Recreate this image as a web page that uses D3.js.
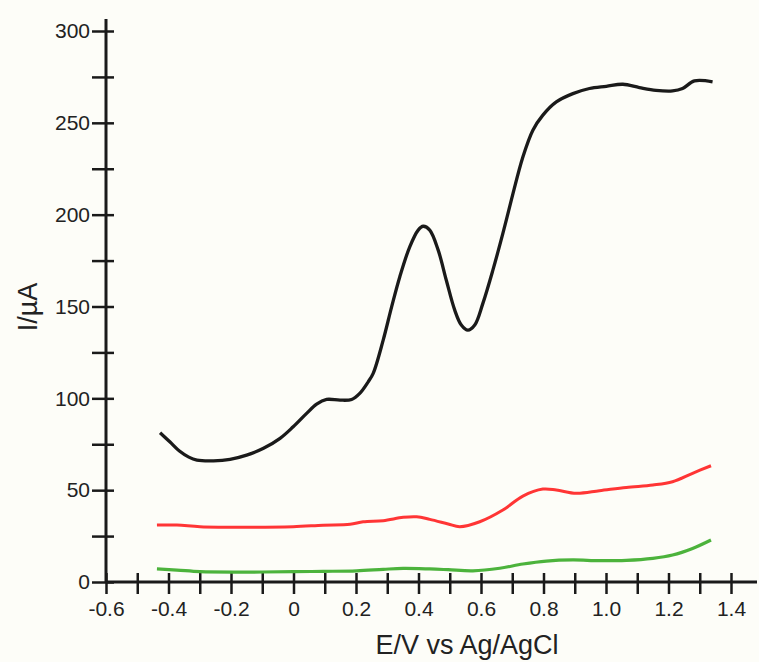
<!DOCTYPE html>
<html>
<head>
<meta charset="utf-8">
<script src="https://cdn.jsdelivr.net/npm/d3@7"></script>
<style>
    body { margin: 0; background: #fdfdf8; }
    svg { display: block; }
    .axis text { font-family: "Liberation Sans", Arial, sans-serif; font-size: 21px; fill: #222; }
    .title { font-family: "Liberation Sans", Arial, sans-serif; font-size: 27px; fill: #222; }
</style>
</head>
<body>
<div id="chart"></div>
<script>
// potentials (V vs Ag/AgCl) and currents (µA)
const blackE = [-0.427, -0.395, -0.365, -0.335, -0.309, -0.256, -0.203, -0.150, -0.096, -0.043, -0.001, 0.042, 0.074, 0.106, 0.149, 0.186, 0.212, 0.239, 0.255, 0.287, 0.314, 0.340, 0.372, 0.399, 0.415, 0.436, 0.463, 0.489, 0.516, 0.537, 0.558, 0.580, 0.606, 0.638, 0.670, 0.697, 0.734, 0.766, 0.798, 0.841, 0.894, 0.947, 1.001, 1.054, 1.107, 1.160, 1.213, 1.245, 1.283, 1.341];
const blackI = [81.3, 76.2, 71.3, 68.0, 66.4, 66.0, 66.8, 69.1, 72.8, 78.2, 84.5, 91.8, 96.9, 99.4, 99.0, 99.4, 102.7, 109.0, 113.6, 131.7, 149.8, 166.1, 182.5, 191.6, 193.7, 191.6, 180.7, 164.3, 148.0, 139.9, 137.1, 139.9, 151.7, 169.8, 189.8, 207.9, 231.4, 246.0, 254.2, 261.4, 265.9, 268.7, 269.9, 271.0, 269.2, 267.7, 267.4, 268.7, 272.8, 272.3];

const redE = [-0.437, -0.373, -0.299, -0.150, -0.001, 0.095, 0.181, 0.223, 0.287, 0.351, 0.394, 0.436, 0.495, 0.532, 0.596, 0.670, 0.734, 0.798, 0.841, 0.905, 0.979, 1.065, 1.150, 1.213, 1.277, 1.336];
const redI = [31.0, 31.0, 30.1, 29.8, 30.1, 30.9, 31.4, 32.8, 33.4, 35.2, 35.5, 34.1, 31.6, 30.1, 32.8, 39.2, 46.8, 50.6, 50.1, 48.3, 49.7, 51.5, 52.8, 54.6, 59.2, 63.3];

const greenE = [-0.437, -0.373, -0.299, -0.150, -0.001, 0.095, 0.202, 0.287, 0.351, 0.436, 0.495, 0.574, 0.660, 0.734, 0.809, 0.894, 0.979, 1.065, 1.150, 1.213, 1.277, 1.336];
const greenI = [7.1, 6.5, 5.6, 5.4, 5.6, 5.8, 6.1, 6.9, 7.4, 7.1, 6.7, 6.1, 7.5, 9.8, 11.4, 12.0, 11.6, 11.8, 12.9, 14.7, 18.3, 22.9];

const xTickValues = d3.range(-6, 15).map(i => i / 10);
const yTickValues = d3.range(0, 301, 25);

const width = 759, height = 662;

const svg = d3.select("#chart").append("svg")
    .attr("width", width)
    .attr("height", height);

const x = d3.scaleLinear().domain([-0.6, 1.4]).range([106, 731]);
const y = d3.scaleLinear().domain([0, 300]).range([582, 31]);

// axis lines
svg.append("line")
    .attr("x1", x(-0.6)).attr("x2", 757)
    .attr("y1", y(0)).attr("y2", y(0))
    .attr("stroke", "#1a1a1a").attr("stroke-width", 3);
svg.append("line")
    .attr("x1", x(-0.6)).attr("x2", x(-0.6))
    .attr("y1", 19).attr("y2", y(0))
    .attr("stroke", "#1a1a1a").attr("stroke-width", 3);

const xAxis = d3.axisBottom(x)
    .tickValues(xTickValues)
    .tickFormat(d => {
        const i = Math.round(d * 10);
        if (Math.abs(i) % 2 !== 0) return "";
        return i === 0 ? "0" : d.toFixed(1);
    });
const gx = svg.append("g")
    .attr("class", "axis")
    .attr("transform", `translate(0, ${y(0)})`)
    .call(xAxis);
gx.select(".domain").remove();
gx.selectAll(".tick line")
    .attr("y1", -9).attr("y2", 12)
    .attr("stroke", "#1a1a1a").attr("stroke-width", 2.5);
gx.selectAll(".tick text").attr("y", 19).attr("fill", "#222");

const yAxis = d3.axisLeft(y)
    .tickValues(yTickValues)
    .tickFormat(d => d % 50 === 0 ? d : "");
const gy = svg.append("g")
    .attr("class", "axis")
    .attr("transform", `translate(${x(-0.6)}, 0)`)
    .call(yAxis);
gy.select(".domain").remove();
gy.selectAll(".tick line")
    .attr("x1", -14).attr("x2", 8)
    .attr("stroke", "#1a1a1a").attr("stroke-width", 2.5);
gy.selectAll(".tick text").attr("x", -16).attr("fill", "#222");

// curves
const line = d3.line()
    .x(d => x(d[0]))
    .y(d => y(d[1]))
    .curve(d3.curveCatmullRom.alpha(0.5));

const series = [
    {E: greenE, I: greenI, color: "#4cb33c", w: 3.2},
    {E: redE, I: redI, color: "#ff3535", w: 3},
    {E: blackE, I: blackI, color: "#1a1a1a", w: 3.3}
];

svg.selectAll("path.curve")
    .data(series)
    .enter().append("path")
    .attr("class", "curve")
    .attr("fill", "none")
    .attr("stroke", d => d.color)
    .attr("stroke-width", d => d.w)
    .attr("stroke-linejoin", "round")
    .attr("d", d => line(d.E.map((e, i) => [e, d.I[i]])));

// axis titles
svg.append("text")
    .attr("class", "title")
    .attr("x", 467)
    .attr("y", 654)
    .attr("text-anchor", "middle")
    .text("E/V vs Ag/AgCl");

svg.append("text")
    .attr("class", "title")
    .attr("transform", "translate(37, 307) rotate(-90)")
    .attr("text-anchor", "middle")
    .text("I/µA");
</script>
</body>
</html>
